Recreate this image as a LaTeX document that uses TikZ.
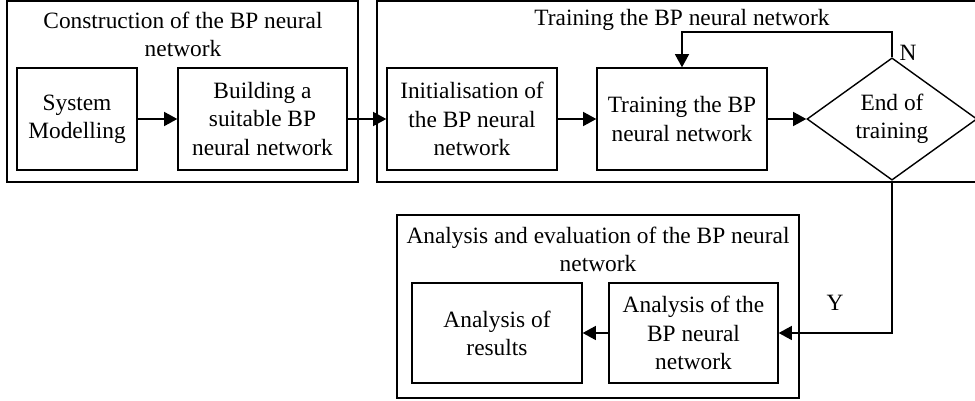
\documentclass[tikz,border=0pt]{standalone}
\usepackage{fontspec}
\setmainfont{Liberation Serif}
\usepackage{tikz}
\usetikzlibrary{
    shapes.geometric,
    arrows.meta,
    positioning,
}

\begin{document}
\begin{tikzpicture}[
    group/.style={rectangle, draw=black, line width=0.8pt, inner sep=0pt},
    proc/.style={rectangle, draw=black, line width=0.8pt, minimum height=2.04cm, align=center, inner sep=1pt},
    decide/.style={diamond, draw=black, line width=0.8pt, minimum width=3.4cm, minimum height=2.04cm, inner sep=0pt, align=center},
    title/.style={align=center},
    flow/.style={-{Triangle[length=7.5pt, width=8pt]}, line width=0.8pt},
    font=\fontsize{13.3}{16}\selectfont
]
    \useasboundingbox (0, 0) rectangle (19.5, 8.02);
    % groups
    \node[group, minimum width=7.02cm, minimum height=3.62cm] (constr) at (3.65, 6.19) {};
    \node[group, minimum width=12.06cm, minimum height=3.62cm] (trainbox) at (13.57, 6.19) {};
    \node[group, minimum width=8.04cm, minimum height=3.66cm] (evalbox) at (11.96, 1.89) {};
    \node[title] (constrtitle) at (3.66, 7.34) {Construction of the BP neural\\network};
    \node[title] (traintitle) at (13.64, 7.62) {Training the BP neural network};
    \node[title] (evaltitle) at (11.96, 3.04) {Analysis and evaluation of the BP neural\\network};
    % steps
    \node[proc, minimum width=2.4cm]  (sysmod) at (1.54, 5.64) {System\\Modelling};
    \node[proc, minimum width=3.38cm] (build)  at (5.25, 5.64) {Building a\\suitable BP\\neural network};
    \node[proc, minimum width=3.4cm]  (init)   at (9.44, 5.64) {Initialisation of\\the BP neural\\network};
    \node[proc, minimum width=3.4cm]  (train)  at (13.64, 5.64) {Training the BP\\neural network};
    \node[decide] (endtrain) at (17.84, 5.64) {End of\\training};
    \node[proc, minimum width=3.38cm, minimum height=2cm] (anbp)    at (13.87, 1.36) {Analysis of the\\BP neural\\network};
    \node[proc, minimum width=3.4cm, minimum height=2cm]  (results) at (9.94, 1.36) {Analysis of\\results};
    \node (nlabel) at (18.16, 6.96) {N};
    \node (ylabel) at (16.7, 1.96) {Y};
    % connectors
    \draw[flow] (sysmod) -- (build);
    \draw[flow] (build) -- (init);
    \draw[flow] (init) -- (train);
    \draw[flow] (train) -- (endtrain);
    \draw[flow] (endtrain.north) -- ++(0, 0.5) -| (train.north);
    \draw[flow] (endtrain.south) |- (anbp.east);
    \draw[flow] (anbp) -- (results);
\end{tikzpicture}
\end{document}
